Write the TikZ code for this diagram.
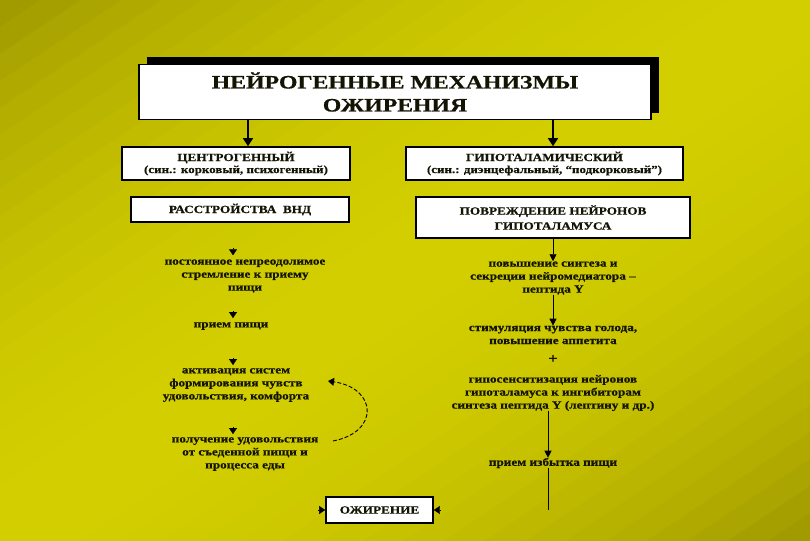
\documentclass[tikz,border=0pt]{standalone}
\usepackage{fontspec}
\setmainfont{Liberation Serif}
\newfontfamily\widefont[FakeStretch=1.2, FakeBold=0.7]{Liberation Serif Bold}
\newfontfamily\titlefont[FakeStretch=1.25, FakeBold=0.8]{Liberation Serif Bold}
\usetikzlibrary{positioning, arrows.meta, calc}
\definecolor{olivedk}{RGB}{158, 152, 0}
\definecolor{olivelt}{RGB}{210, 206, 0}
\definecolor{ink}{RGB}{20, 20, 5}

\begin{document}
\begin{tikzpicture}[x=1pt, y=-1pt,
    box/.style={draw=black, line width=1.6pt, fill=white, inner sep=0pt, align=center, text=ink},
    txt/.style={align=center, inner sep=0pt, text=ink, font=\widefont\fontsize{11}{13}\selectfont},
    arr/.style={-{Triangle[length=8pt, width=10pt]}, line width=1.4pt},
    thin/.style={-{Triangle[length=7pt, width=7pt]}, line width=0.8pt},
    tipst/.style={-{Triangle[length=6pt, width=8pt]}, line width=0.3pt}]
  % background, diagonal bands
  \useasboundingbox (0,0) rectangle (810,540);
  \begin{scope}[x=810pt, y=-540pt]
    \clip (0,0) rectangle (1,1);
    \foreach \i in {0,...,39} {
      \pgfmathsetmacro{\sa}{\i/20}
      \pgfmathsetmacro{\sb}{(\i+1.3)/20}
      \pgfmathsetmacro{\pc}{100*(1-((\i+0.5)/20-1)^2)}
      \fill[olivelt!\pc!olivedk] (\sa,0) -- (\sb,0) -- (\sb-2,2) -- (\sa-2,2) -- cycle;
    }
  \end{scope}
  % title with shadow
  \fill[black] (147,57) rectangle (659,113);
  \node[box, minimum width=512pt, minimum height=55pt, font=\titlefont\fontsize{19}{23}\selectfont] (title) at (395,92) {НЕЙРОГЕННЫЕ МЕХАНИЗМЫ\\ОЖИРЕНИЯ};
  % two branches
  \node[box, minimum width=228pt, minimum height=33pt] (centro) at (236,163.5) {{\widefont\fontsize{11}{13}\selectfont ЦЕНТРОГЕННЫЙ}\\[0pt]{\widefont\fontsize{10.8}{12}\selectfont (син.: корковый, психогенный)}};
  \node[box, minimum width=277pt, minimum height=33pt] (hypo) at (544.5,163.5) {{\widefont\fontsize{11}{13}\selectfont ГИПОТАЛАМИЧЕСКИЙ}\\[0pt]{\widefont\fontsize{10.8}{12}\selectfont (син.: диэнцефальный, “подкорковый”)}};
  \node[box, minimum width=218pt, minimum height=25pt, font=\widefont\fontsize{11}{13}\selectfont] (vnd) at (240,209.5) {РАССТРОЙСТВА\ \ ВНД};
  \node[box, minimum width=274pt, minimum height=41pt, font=\widefont\fontsize{11}{15}\selectfont] (damage) at (553,217.5) {ПОВРЕЖДЕНИЕ НЕЙРОНОВ\\ГИПОТАЛАМУСА};
  \draw[arr] ([xshift=12pt]title.south -| centro.north) -- ([xshift=12pt]centro.north);
  \draw[arr] ([xshift=8.5pt]title.south -| hypo.north) -- ([xshift=8.5pt]hypo.north);
  % left chain
  \node[txt] (l1) at (245,276) {постоянное непреодолимое\\стремление к приему\\пищи};
  \node[txt] (l2) at (231,326) {прием пищи};
  \node[txt] (l3) at (236,385) {активация систем\\формирования чувств\\удовольствия, комфорта};
  \node[txt] (l4) at (245,454) {получение удовольствия\\от съеденной пищи и\\процесса еды};
  \draw[tipst] ([shift={(-12,-11)}]l1.north) -- ([shift={(-12,-4)}]l1.north);
  \draw[tipst] ([shift={(2,-11)}]l2.north) -- ([shift={(2,-4)}]l2.north);
  \draw[tipst] ([shift={(-3,-10)}]l3.north) -- ([shift={(-3,-3)}]l3.north);
  \draw[tipst] ([shift={(-12,-10)}]l4.north) -- ([shift={(-12,-3)}]l4.north);
  \coordinate (loopa) at (333,441);
  \coordinate (loopb) at (328,381);
  \draw[tipst, dash pattern=on 4pt off 2pt, line width=0.9pt] (loopa) .. controls (380,432) and (377,388) .. (loopb);
  % right chain
  \node[txt] (r1) at (553,278) {повышение синтеза и\\секреции нейромедиатора –\\пептида Y};
  \node[txt] (r2) at (553,335) {стимуляция чувства голода,\\повышение аппетита};
  \node[txt, font=\widefont\fontsize{14}{14}\selectfont] (plus) at (553,359) {+};
  \node[txt] (r3) at (553,393) {гипосенситизация нейронов\\гипоталамуса к ингибиторам\\синтеза пептида Y (лептину и др.)};
  \node[txt] (r4) at (553,463) {прием избытка пищи};
  \draw[thin] (damage.south) -- (r1.north);
  \draw[thin] (r1.south) -- (r2.north);
  \draw[thin] ([xshift=-5pt]r3.south) -- ([xshift=-5pt]r4.north);
  \coordinate (rend) at (548,510);
  \draw[line width=0.8pt] ([xshift=-5pt]r4.south) -- (rend);
  % result
  \node[box, minimum width=107pt, minimum height=26pt, font=\widefont\fontsize{11}{13}\selectfont] (obes) at (379.5,510) {ОЖИРЕНИЕ};
  \draw[tipst] ([xshift=-7pt]obes.west) -- (obes.west);
  \draw[tipst] ([xshift=7pt]obes.east) -- (obes.east);
\end{tikzpicture}
\end{document}
